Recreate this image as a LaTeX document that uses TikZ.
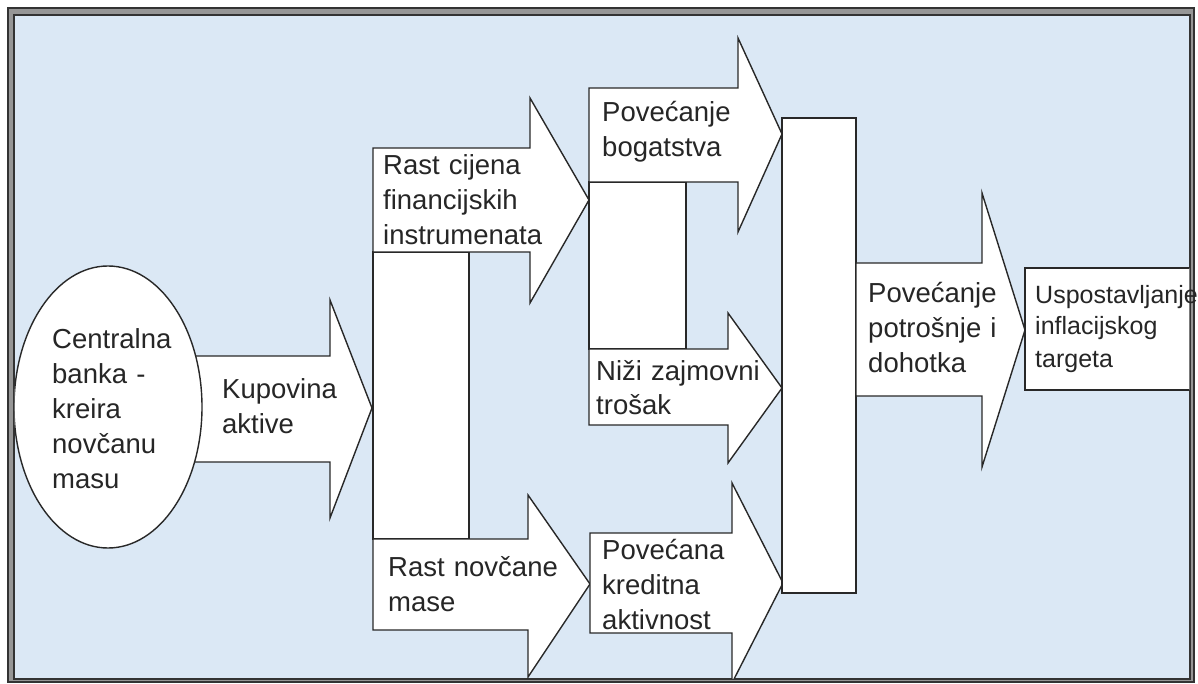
\documentclass[tikz,border=0pt]{standalone}
\usepackage{fontspec}
\setmainfont{Liberation Sans}
\usetikzlibrary{shapes.geometric}
\definecolor{bgblue}{RGB}{219,232,245}
\definecolor{framegray}{RGB}{150,150,150}
\definecolor{linegray}{RGB}{40,40,40}
\tikzset{
  shp/.style={draw=linegray, fill=white, line width=1.4pt, line join=miter},
  lbl/.style={inner sep=0pt, anchor=base west, align=left, text width=240pt,
    font=\fontsize{27.5pt}{35pt}\selectfont, text=black!85},
  lblsmall/.style={lbl, font=\fontsize{25pt}{32pt}\selectfont, text width=170pt},
}
\newcommand\barrow[8]{\draw[shp] (#1,#4) -- (#2,#4) -- (#2,#6) -- (#3,#8) -- (#2,#7) -- (#2,#5) -- (#1,#5) -- cycle;}
\begin{document}
\begin{tikzpicture}[x=1pt,y=-1pt]
\useasboundingbox (0,0) rectangle (1198,684);
% frame
\fill[white] (0,0) rectangle (1198,684);
\draw[fill=framegray, draw=black!80, line width=1.5pt] (8,8) rectangle (1194,682);
\draw[fill=bgblue, draw=black!80, line width=1.2pt] (14,15) rectangle (1190,679);
\begin{scope}
\clip (14.6,15.6) rectangle (1189.4,678.4);
% Kupovina aktive arrow
\barrow{190}{330}{372}{356}{462}{300}{518}{408}
% ellipse
\node[shp, ellipse, minimum width=188pt, minimum height=282pt, inner sep=0pt] (cb) at (108,407) {};
% column 1
\draw[shp] (373,252) rectangle (469,539);
\barrow{373}{530}{589}{148}{252}{98}{303}{200}
\barrow{373}{528}{590}{539}{630}{495}{677}{584}
% column 2
\draw[shp] (589,182) rectangle (686,349);
\barrow{589}{738}{782}{88}{182}{38}{232}{134}
\barrow{589}{728}{782}{349}{425}{313}{463}{388}
\barrow{590}{732}{783}{533}{633}{483}{683}{583}
% tall rect
\draw[shp] (782,118) rectangle (856,593);
% potrosnja arrow
\barrow{856}{982}{1025}{263}{396}{193}{467}{330}
% final box
\draw[shp] (1025,268) rectangle (1192,390);
\end{scope}
% labels
\node[lbl] (tcb) at (52,348) {Centralna\\banka -\\kreira\\novčanu\\masu};
\node[lbl] (tka) at (222,398) {Kupovina\\aktive};
\node[lbl] (trc) at (383,175) {Rast cijena\\financijskih\\instrumenata};
\node[lbl] (trn) at (388,576) {Rast novčane\\mase};
\node[lbl] (tpb) at (602,122) {Povećanje\\bogatstva};
\node[lbl, font=\fontsize{27.5pt}{34pt}\selectfont] (tnz) at (596,380) {Niži zajmovni\\trošak};
\node[lbl] (tpk) at (602,559) {Povećana\\kreditna\\aktivnost};
\node[lbl] (tpp) at (868,302) {Povećanje\\potrošnje i\\dohotka};
\node[lblsmall] (tui) at (1035,303) {Uspostavljanje\\inflacijskog\\targeta};
\end{tikzpicture}
\end{document}
